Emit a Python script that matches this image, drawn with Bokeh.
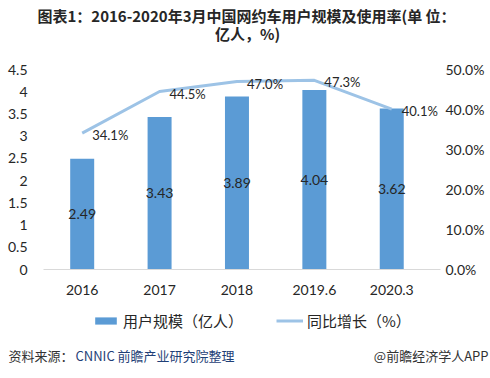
from bokeh.plotting import figure
from bokeh.layouts import column
from bokeh.models import (ColumnDataSource, LinearAxis, Range1d, NumeralTickFormatter,
                          FixedTicker, LabelSet, Label, Legend, LegendItem)
from bokeh.core.properties import value
from bokeh.embed import file_html
from bokeh.resources import INLINE

# ---- data ----
categories = ["2016", "2017", "2018", "2019.6", "2020.3"]
users = [2.49, 3.43, 3.89, 4.04, 3.62]            # 亿人
usage_rate = [0.341, 0.445, 0.470, 0.473, 0.401]  # 使用率
usage_labels = ["34.1%", "44.5%", "47.0%", "47.3%", "40.1%"]
user_labels = ["2.49", "3.43", "3.89", "4.04", "3.62"]
left_ticks = [0, 0.5, 1, 1.5, 2, 2.5, 3, 3.5, 4, 4.5]
right_ticks = [0, 0.1, 0.2, 0.3, 0.4, 0.5]

title_line1 = "图表1：2016-2020年3月中国网约车用户规模及使用率(单 位："
title_line2 = "亿人，%)"
source_prefix = "资料来源："
source_text = "CNNIC 前瞻产业研究院整理"
brand_text = "@前瞻经济学人APP"
legend_bar = "用户规模（亿人）"
legend_line = "同比增长（%）"

# ---- style ----
BAR = "#5B9BD5"
LINE = "#9DC3E6"
TXT = "#262626"
LATIN = "Lato"
CJK = "Noto Sans CJK SC"
W = 490
NAN = float("nan")


def blank_fig(h):
    f = figure(width=W, height=h, x_range=Range1d(0, W), y_range=Range1d(0, h),
               output_backend="svg", toolbar_location=None,
               x_axis_location=None, y_axis_location=None, frame_align=False,
               min_border=0, min_border_left=0, min_border_right=0,
               min_border_top=0, min_border_bottom=0)
    f.outline_line_color = None
    f.xgrid.visible = False
    f.ygrid.visible = False
    return f


# ---- title ----
TH = 45
tf = blank_fig(TH)
tf.add_layout(Label(x=246, y=TH - 15, text=title_line1,
                    text_align="center", text_baseline="middle", text_font=CJK,
                    text_font_style="bold", text_font_size="15px", text_color=TXT))
tf.add_layout(Label(x=247, y=TH - 33, text=title_line2,
                    text_align="center", text_baseline="middle", text_font=CJK,
                    text_font_style="bold", text_font_size="15px", text_color=TXT))

# ---- main chart ----
MH = 265  # image y 45..310
idx = list(range(len(categories)))
p = figure(x_range=Range1d(-0.5, len(categories) - 0.37), y_range=Range1d(0, 4.5),
           width=W, height=MH, output_backend="svg", toolbar_location=None,
           min_border_left=43, min_border_right=50, min_border_top=24, min_border_bottom=41)
p.outline_line_color = None
p.xgrid.visible = False
p.ygrid.visible = False

src = ColumnDataSource(dict(idx=idx, cat=categories, users=users,
                            mid=[u / 2 for u in users],
                            users_text=user_labels,
                            rate=usage_rate, rate_text=usage_labels))

bars = p.vbar(x="idx", top="users", width=0.31, source=src, fill_color=BAR, line_color=None)

p.extra_y_ranges = {"rate": Range1d(0, 0.5)}
line = p.line(x="idx", y="rate", source=src, y_range_name="rate",
              line_color=LINE, line_width=3, line_join="round")

xa = p.xaxis[0]
xa.ticker = FixedTicker(ticks=idx)
xa.major_label_overrides = {i: c for i, c in zip(idx, categories)}
xa.axis_line_color = "#D9D9D9"
xa.major_tick_line_color = None
xa.minor_tick_line_color = None
xa.major_tick_out = 0
xa.major_label_standoff = 15
xa.major_label_text_font = LATIN
xa.major_label_text_font_size = "14px"
xa.major_label_text_color = TXT

ya = p.yaxis[0]
ya.ticker = FixedTicker(ticks=left_ticks)
ya.formatter = NumeralTickFormatter(format="0.[0]")
ya.axis_line_color = None
ya.major_tick_line_color = None
ya.minor_tick_line_color = None
ya.major_tick_out = 0
ya.major_label_standoff = 16
ya.major_label_text_font = LATIN
ya.major_label_text_font_size = "14px"
ya.major_label_text_color = TXT

ra = LinearAxis(y_range_name="rate", ticker=FixedTicker(ticks=right_ticks),
                formatter=NumeralTickFormatter(format="0.0%"))
ra.axis_line_color = None
ra.major_tick_line_color = None
ra.minor_tick_line_color = None
ra.major_tick_out = 0
ra.major_label_standoff = 5
ra.major_label_text_font = LATIN
ra.major_label_text_font_size = "14px"
ra.major_label_text_color = TXT
p.add_layout(ra, "right")

p.add_layout(LabelSet(x="idx", y="mid", text="users_text", source=src,
                      text_align="center", text_baseline="middle",
                      text_font=value(LATIN), text_font_size="14px", text_color=TXT))
p.add_layout(LabelSet(x="idx", y="rate", text="rate_text", source=src, y_range_name="rate",
                      x_offset=10, y_offset=-2, text_align="left", text_baseline="middle",
                      text_font=value(LATIN), text_font_size="13px", text_color=TXT))

# ---- legend + footer ----
BH = 68  # image y 310..378
bf = blank_fig(BH)
# legend keys styled like the chart's bar and line renderers
lg_bar = bf.vbar(x=[NAN], top=[NAN], width=1, fill_color=BAR, line_color=None)
lg_line = bf.line(x=[NAN, NAN], y=[NAN, NAN], line_color=LINE, line_width=3)
legend = Legend(items=[LegendItem(label=legend_bar, renderers=[lg_bar]),
                       LegendItem(label=legend_line, renderers=[lg_line])],
                orientation="horizontal", location=(92, BH - 21),
                glyph_width=27, glyph_height=9, label_height=18, label_standoff=4,
                spacing=33, padding=0, margin=0,
                border_line_color=None, background_fill_alpha=0,
                label_text_font=CJK, label_text_font_size="15px", label_text_color=TXT)
bf.add_layout(legend, "center")

FY = BH - 45
bf.add_layout(Label(x=8, y=FY, text=source_prefix,
                    text_align="left", text_baseline="middle", text_font=CJK,
                    text_font_size="13px", text_color="#333333"))
bf.add_layout(Label(x=75, y=FY, text=source_text,
                    text_align="left", text_baseline="middle", text_font=CJK,
                    text_font_size="13px", text_color="#1F3F77"))
bf.add_layout(Label(x=488, y=FY, text=brand_text,
                    text_align="right", text_baseline="middle", text_font=CJK,
                    text_font_size="13px", text_color="#333333"))

layout = column(tf, p, bf, spacing=0)
open("out.html", "w").write(file_html(layout, INLINE))
